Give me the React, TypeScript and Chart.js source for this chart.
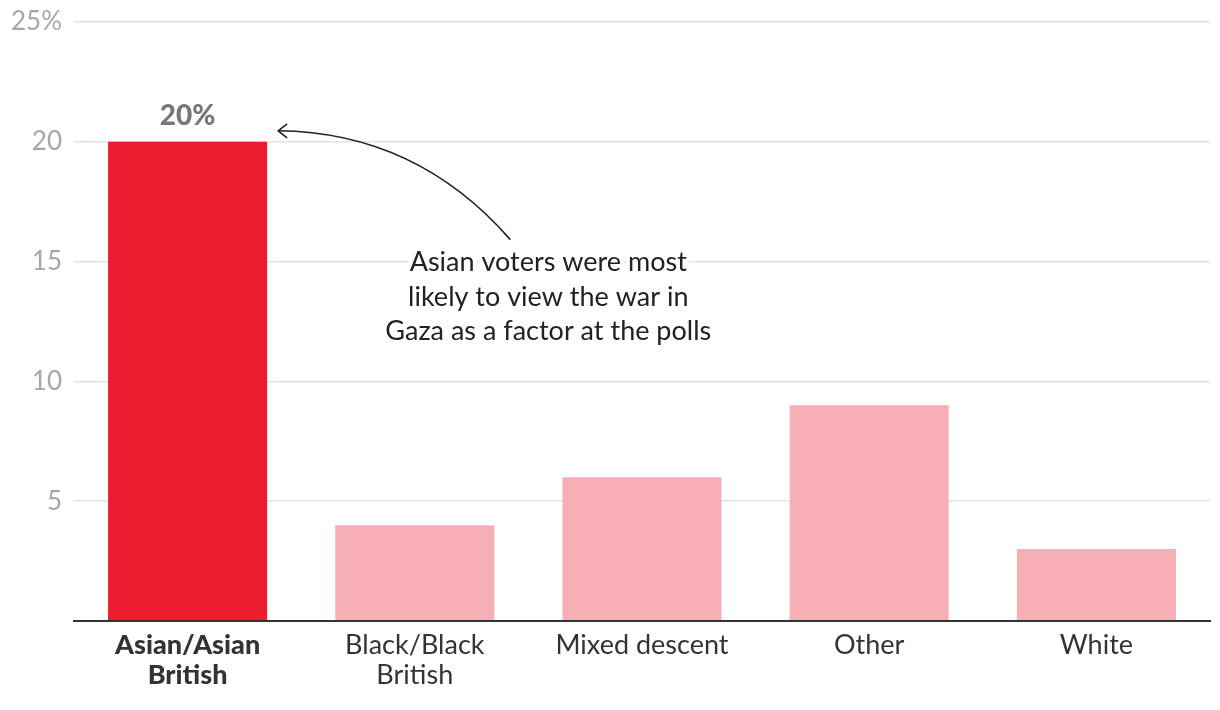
import React, { useEffect, useRef } from "react";
import { Chart, registerables } from "chart.js";

Chart.register(...registerables);

const categories: (string | string[])[] = [
  ["Asian/Asian", "British"],
  ["Black/Black", "British"],
  "Mixed descent",
  "Other",
  "White",
];
const values: number[] = [20, 4, 6, 9, 3];
const barColors: string[] = ["#ED1B2F", "#F7AFB5", "#F7AFB5", "#F7AFB5", "#F7AFB5"];
const yTicks: number[] = [0, 5, 10, 15, 20, 25];
const highlightLabel = "20%";
const annotationLines: string[] = [
  "Asian voters were most",
  "likely to view the war in",
  "Gaza as a factor at the polls",
];

const FONT = "Lato, 'Noto Sans', sans-serif";

const annotationPlugin = {
  id: "annotations",
  afterDatasetsDraw(chart: any) {
    const ctx = chart.ctx as CanvasRenderingContext2D;
    const meta = chart.getDatasetMeta(0);
    const bar = meta.data[0] as any;
    const { x, y, width } = bar.getProps(["x", "y", "width"], true);
    const ys = chart.scales.y;
    const area = chart.chartArea;
    ctx.save();
    // value label
    ctx.font = `900 28px ${FONT}`;
    ctx.fillStyle = "#777777";
    ctx.textAlign = "center";
    ctx.textBaseline = "alphabetic";
    ctx.fillText(highlightLabel, x, y - 17);

    // annotation text
    const cx = area.left + (area.right - area.left) * 0.4175;
    const y15 = ys.getPixelForValue(15);
    ctx.font = `27px ${FONT}`;
    ctx.textBaseline = "middle";
    annotationLines.forEach((line, i) => {
      const ly = y15 + 1 + i * 34.5;
      ctx.lineWidth = 8;
      ctx.strokeStyle = "#ffffff";
      ctx.lineJoin = "round";
      ctx.strokeText(line, cx, ly);
      ctx.fillStyle = "#222222";
      ctx.fillText(line, cx, ly);
    });

    // arrow
    const tipX = x + width / 2 + 11;
    const tipY = y - 11;
    const sx = cx - 38;
    const sy = y15 - 22;
    ctx.strokeStyle = "#222222";
    ctx.lineWidth = 1.6;
    ctx.beginPath();
    ctx.moveTo(sx, sy);
    ctx.bezierCurveTo(sx - 70, sy - 80, sx - 150, sy - 108, tipX, tipY);
    ctx.stroke();
    ctx.beginPath();
    ctx.moveTo(tipX + 9, tipY - 7);
    ctx.lineTo(tipX, tipY);
    ctx.lineTo(tipX + 9, tipY + 7);
    ctx.stroke();
    ctx.restore();
  },
};

export default function App() {
  const canvasRef = useRef<HTMLCanvasElement | null>(null);
  useEffect(() => {
    document.body.style.margin = "0";
    const chart = new Chart(canvasRef.current as HTMLCanvasElement, {
      type: "bar",
      data: {
        labels: categories,
        datasets: [
          {
            data: values,
            backgroundColor: barColors,
            borderWidth: 0,
            categoryPercentage: 1,
            barPercentage: 0.7,
          },
        ],
      },
      options: {
        animation: false,
        responsive: false,
        maintainAspectRatio: false,
        layout: { padding: { top: 22, right: 10, left: 0, bottom: 0 } },
        plugins: {
          legend: { display: false },
          tooltip: { enabled: false },
        },
        scales: {
          x: {
            afterFit: (s: any) => {
              s.height = 89;
              s.paddingLeft = 0;
              s.paddingRight = 0;
            },
            grid: { display: false },
            border: { display: true, color: "#333333", width: 2, z: 1 },
            ticks: {
              color: "#333333",
              padding: 1,
              maxRotation: 0,
              autoSkip: false,
              font: (c: any) => ({
                family: FONT,
                size: 27,
                weight: c.index === 0 ? "900" : "normal",
                lineHeight: 1.12,
              }),
            },
          },
          y: {
            min: 0,
            max: 25,
            afterFit: (s: any) => {
              s.width = 74;
              s.paddingTop = 0;
              s.paddingBottom = 0;
            },
            afterBuildTicks: (s: any) => {
              s.ticks = yTicks.map((v) => ({ value: v }));
            },
            border: { display: false },
            grid: {
              color: "#e3e3e3",
              lineWidth: 1.5,
              drawTicks: false,
            },
            ticks: {
              color: "#a6a6a6",
              padding: 12,
              font: { family: FONT, size: 26 },
              callback: (v: any) => (v === 0 ? "" : v === 25 ? "25%" : String(v)),
            },
          },
        },
      },
      plugins: [annotationPlugin],
    } as any);
    return () => chart.destroy();
  }, []);
  return (
    <div style={{ position: "absolute", left: 0, top: 0, width: 1220, height: 710 }}>
      <canvas ref={canvasRef} width={1220} height={710} />
    </div>
  );
}
